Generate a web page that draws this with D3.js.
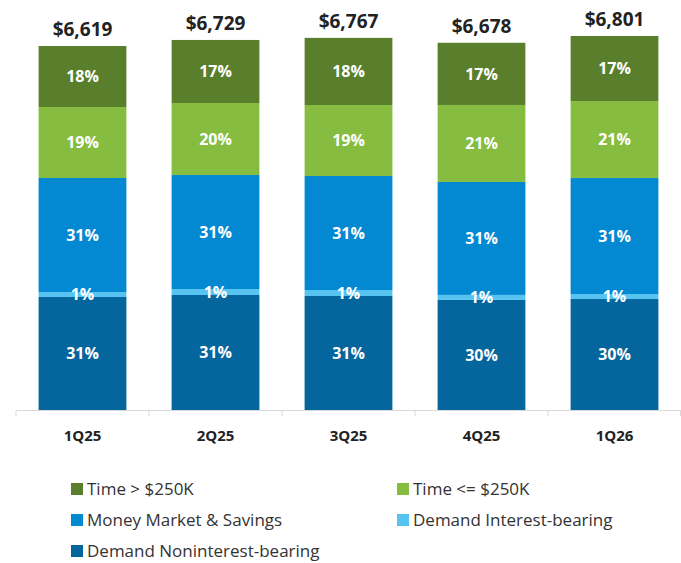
<!DOCTYPE html>
<html>
<head>
<meta charset="utf-8">
<script src="https://cdn.jsdelivr.net/npm/d3@7"></script>
<style>
  body { margin: 0; background: #fff; }
  svg { display: block; font-family: "Open Sans", sans-serif; }
</style>
</head>
<body>
<svg id="chart" width="681" height="563"></svg>
<script>
// quarters and totals ($M)
const quarters = ["1Q25", "2Q25", "3Q25", "4Q25", "1Q26"];
const totals = [6619, 6729, 6767, 6678, 6801];

// segment values ($M), bottom to top
const demandNonint = [2055, 2091, 2073, 2002, 2018];
const demandInt    = [ 91,  109,  109,   91,   91];
const moneyMarket  = [2073, 2073, 2073, 2054, 2109];
const timeUnder    = [1291, 1309, 1291, 1400, 1400];
const timeOver     = [1109, 1147, 1221, 1131, 1183];

// labels shown inside the bars
const pctNonint = ["31%", "31%", "31%", "30%", "30%"];
const pctInt    = ["1%", "1%", "1%", "1%", "1%"];
const pctMM     = ["31%", "31%", "31%", "31%", "31%"];
const pctUnder  = ["19%", "20%", "19%", "21%", "21%"];
const pctOver   = ["18%", "17%", "18%", "17%", "17%"];

const series = [
  { key: "nonint", name: "Demand Noninterest-bearing", values: demandNonint, labels: pctNonint, color: "#05659d" },
  { key: "int", name: "Demand Interest-bearing", values: demandInt, labels: pctInt, color: "#56c3f0" },
  { key: "mm", name: "Money Market & Savings", values: moneyMarket, labels: pctMM, color: "#0388d2" },
  { key: "under", name: "Time <= $250K", values: timeUnder, labels: pctUnder, color: "#86bc40" },
  { key: "over", name: "Time > $250K", values: timeOver, labels: pctOver, color: "#5a7f2c" }
];

const rows = quarters.map((q, i) => {
  const r = { q };
  series.forEach(s => r[s.key] = s.values[i]);
  return r;
});

const svg = d3.select("#chart");

const x = d3.scaleBand().domain(quarters).range([16, 681]);
const barW = x.bandwidth() * 0.66;
const y = d3.scaleLinear().domain([0, 6801]).range([410, 36]);

const stacked = d3.stack().keys(series.map(s => s.key))(rows);

const layers = svg.append("g").selectAll("g")
  .data(stacked)
  .join("g")
  .attr("fill", (d, i) => series[i].color);

layers.selectAll("rect")
  .data(d => d)
  .join("rect")
  .attr("x", d => x(d.data.q) + (x.bandwidth() - barW) / 2)
  .attr("width", barW)
  .attr("y", d => y(d[1]))
  .attr("height", d => y(d[0]) - y(d[1]));

// percent labels
stacked.forEach((layer, i) => {
  svg.append("g").selectAll("text")
    .data(layer)
    .join("text")
    .attr("x", d => x(d.data.q) + x.bandwidth() / 2)
    .attr("y", d => (y(d[0]) + y(d[1])) / 2)
    .attr("dy", "0.36em")
    .attr("text-anchor", "middle")
    .attr("fill", "#fff")
    .style("font-size", "16px")
    .style("font-weight", "bold")
    .text((d, j) => series[i].labels[j]);
});

// totals on top
svg.append("g").selectAll("text")
  .data(quarters)
  .join("text")
  .attr("x", d => x(d) + x.bandwidth() / 2)
  .attr("y", (d, i) => y(totals[i]) - 10)
  .attr("text-anchor", "middle")
  .attr("fill", "#222")
  .style("font-size", "19px")
  .style("font-weight", "bold")
  .text((d, i) => "$" + d3.format(",")(totals[i]));

// x axis
const xAxis = svg.append("g")
  .attr("transform", "translate(0,410)")
  .call(d3.axisBottom(x).tickSize(0).tickPadding(20).tickSizeOuter(0));
xAxis.select(".domain").attr("stroke", "#d9d9d9");
xAxis.selectAll(".tick text")
  .attr("fill", "#222")
  .style("font-size", "15px")
  .style("font-weight", "bold")
  .style("font-family", "Open Sans, sans-serif");

// category separators
svg.append("g").selectAll("line")
  .data(quarters.concat("end"))
  .join("line")
  .attr("x1", (d, i) => i < quarters.length ? x(d) : x.range()[1] - 0.5)
  .attr("x2", (d, i) => i < quarters.length ? x(d) : x.range()[1] - 0.5)
  .attr("y1", 410)
  .attr("y2", 416)
  .attr("stroke", "#d9d9d9");

// legend
const legendOrder = ["over", "under", "mm", "int", "nonint"];
const legend = svg.append("g").selectAll("g")
  .data(legendOrder.map(k => series.find(s => s.key === k)))
  .join("g")
  .attr("transform", (d, i) => `translate(${i % 2 === 0 ? 71 : 397},${489 + Math.floor(i / 2) * 31})`);

legend.append("rect")
  .attr("x", 0)
  .attr("y", -6)
  .attr("width", 12)
  .attr("height", 12)
  .attr("fill", d => d.color);

legend.append("text")
  .attr("x", 16)
  .attr("dy", "0.35em")
  .attr("fill", "#333")
  .style("font-size", "17px")
  .text(d => d.name);
</script>
</body>
</html>
